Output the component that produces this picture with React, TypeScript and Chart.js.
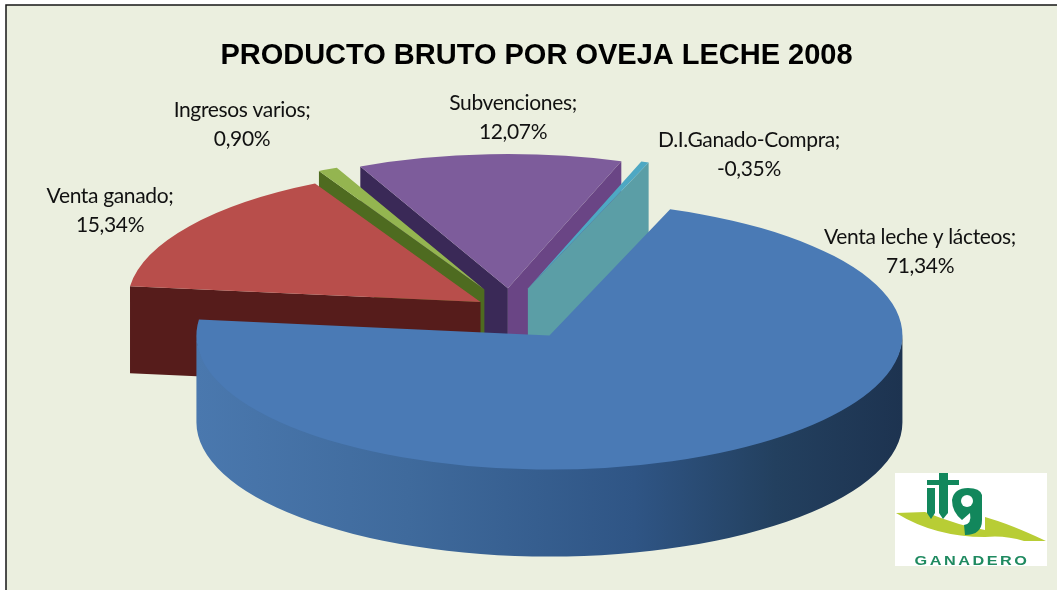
import React, { useEffect, useRef } from "react";
import { Chart, registerables } from "chart.js";

Chart.register(...registerables);

const chartTitle = "PRODUCTO BRUTO POR OVEJA LECHE 2008";
const categories = ["Venta leche y lácteos", "Venta ganado", "Ingresos varios", "Subvenciones", "D.I.Ganado-Compra"];
const shares = [71.34, 15.34, 0.9, 12.07, 0.35];
const shareSigns = [1, 1, 1, 1, -1];
const topColors = ["#4a7ab5", "#b84e4b", "#94b550", "#7d5c9b", "#4ea8c3"];
const leftWallColors = ["#3a6191", "#561c1b", "#4e6b20", "#3a2957", "#5b9ea6"];
const rightWallColors = ["#3a6191", "#561c1b", "#4e6b20", "#6a4585", "#5b9ea6"];
const paintOrder = [3, 4, 2, 1, 0];

// Picture geometry of the tilted pie
const PIE = { cx: 517, cy: 312, radius: 353, tilt: 0.38, depth: 87, explode: 60 };
const sliceNudge = [[1, 4], [13, 3], [-6, -2], [-6, -1], [-9, -2]];
const labelCenters = [[920, 237], [110, 196], [242, 110], [513, 103], [749, 140]];
const LABEL_LEADING = 29;

const drawLogo = (ctx: CanvasRenderingContext2D) => {
  const green = "#12875c";
  ctx.save();
  ctx.fillStyle = "#ffffff";
  ctx.fillRect(895, 473, 152, 93);
  // swoosh
  ctx.fillStyle = "#b8cd35";
  ctx.beginPath();
  ctx.moveTo(896, 513);
  ctx.lineTo(925, 512);
  ctx.quadraticCurveTo(960, 526, 985, 530);
  ctx.lineTo(985, 517);
  ctx.quadraticCurveTo(1010, 524, 1046, 541);
  ctx.lineTo(1024, 541);
  ctx.quadraticCurveTo(1005, 535, 985, 537);
  ctx.quadraticCurveTo(935, 537, 896, 513);
  ctx.fill();
  ctx.fillStyle = green;
  // i
  ctx.fillRect(927, 480, 8, 5);
  ctx.beginPath();
  ctx.moveTo(927, 488);
  ctx.lineTo(935, 488);
  ctx.lineTo(935, 513);
  ctx.lineTo(931, 519);
  ctx.lineTo(927, 513);
  ctx.fill();
  // t
  ctx.fillRect(935, 480, 24, 5);
  ctx.beginPath();
  ctx.moveTo(939, 473);
  ctx.lineTo(948, 473);
  ctx.lineTo(948, 513);
  ctx.lineTo(943, 519);
  ctx.lineTo(939, 513);
  ctx.fill();
  // g
  ctx.beginPath();
  ctx.moveTo(982, 495);
  ctx.lineTo(982, 520);
  ctx.quadraticCurveTo(982, 535, 965, 535);
  ctx.lineTo(964, 525);
  ctx.quadraticCurveTo(972, 524, 970, 513);
  ctx.lineTo(962, 520);
  ctx.quadraticCurveTo(952, 512, 952, 500);
  ctx.quadraticCurveTo(954, 488, 968, 488);
  ctx.quadraticCurveTo(980, 488, 982, 495);
  ctx.fill();
  ctx.fillStyle = "#ffffff";
  ctx.beginPath();
  ctx.ellipse(967, 501, 6, 6, 0, 0, Math.PI * 2);
  ctx.fill();
  ctx.fillStyle = "#1f8a60";
  ctx.font = "bold 13px 'Liberation Sans'";
  (ctx as any).letterSpacing = "2px";
  ctx.textAlign = "center";
  ctx.textBaseline = "middle";
  ctx.translate(972, 561);
  ctx.scale(1.25, 1);
  ctx.fillText("GANADERO", 0, 0);
  ctx.restore();
};

const piePlugin = {
  id: "tiltedPie",
  beforeDraw(chart: any) {
    const ctx = chart.ctx as CanvasRenderingContext2D;
    ctx.save();
    ctx.fillStyle = "#ffffff";
    ctx.fillRect(0, 0, chart.width, chart.height);
    ctx.fillStyle = "#ebefdf";
    ctx.fillRect(6, 5, chart.width, chart.height);
    ctx.strokeStyle = "#161616";
    ctx.lineWidth = 1.5;
    ctx.strokeRect(6, 5, chart.width + 10, chart.height + 10);
    ctx.restore();
  },
  beforeDatasetsDraw(chart: any) {
    const ctx = chart.ctx as CanvasRenderingContext2D;
    const arcs = chart.getDatasetMeta(0).data;
    const { cx, cy, radius, tilt, depth, explode } = PIE;
    for (const i of paintOrder) {
      const arc = arcs[i];
      const scale = radius / arc.outerRadius;
      const mid = (arc.startAngle + arc.endAngle) / 2;
      const ox = cx + Math.cos(mid) * explode + sliceNudge[i][0];
      const oy = cy + Math.sin(mid) * explode * tilt + sliceNudge[i][1];
      const at = (a: number, r = radius): [number, number] => [ox + Math.cos(a) * r, oy + Math.sin(a) * r * tilt];
      const wall = (a: number, color: string) => {
        const p = at(a);
        ctx.fillStyle = color;
        ctx.beginPath();
        ctx.moveTo(ox, oy);
        ctx.lineTo(p[0], p[1]);
        ctx.lineTo(p[0], p[1] + depth);
        ctx.lineTo(ox, oy + depth);
        ctx.closePath();
        ctx.fill();
      };
      // radial faces that look toward the viewer
      if (Math.sin(arc.startAngle - Math.PI / 2) > 0) wall(arc.startAngle, leftWallColors[i]);
      if (Math.sin(arc.endAngle + Math.PI / 2) > 0) wall(arc.endAngle, rightWallColors[i]);
      // outer rim, only on the front half
      const from = Math.max(arc.startAngle, 0);
      const to = Math.min(arc.endAngle, Math.PI);
      if (to > from) {
        const g = ctx.createLinearGradient(ox - radius, 0, ox + radius, 0);
        g.addColorStop(0, "#4a78ae");
        g.addColorStop(0.3, "#3f6a9c");
        g.addColorStop(0.62, "#2f5585");
        g.addColorStop(0.82, "#23405f");
        g.addColorStop(1, "#1d3350");
        ctx.fillStyle = g;
        ctx.beginPath();
        ctx.ellipse(ox, oy - 1.5, radius, radius * tilt, 0, from, to);
        ctx.ellipse(ox, oy + depth, radius, radius * tilt, 0, to, from, true);
        ctx.closePath();
        ctx.fill();
      }
      // top face: the library's own arc element under the tilt transform
      ctx.save();
      ctx.translate(ox, oy);
      ctx.scale(scale, scale * tilt);
      ctx.translate(-arc.x, -arc.y);
      arc.draw(ctx);
      ctx.restore();
    }
    return false;
  },
  afterDraw(chart: any) {
    const ctx = chart.ctx as CanvasRenderingContext2D;
    ctx.save();
    ctx.fillStyle = "#111111";
    ctx.font = "21px Lato";
    (ctx as any).letterSpacing = "-0.35px";
    ctx.textAlign = "center";
    ctx.textBaseline = "middle";
    categories.forEach((name, i) => {
      const [x, y] = labelCenters[i];
      const pct = (shares[i] * shareSigns[i]).toFixed(2).replace(".", ",") + "%";
      ctx.fillText(name + ";", x, y);
      ctx.fillText(pct, x, y + LABEL_LEADING);
    });
    (ctx as any).letterSpacing = "0px";
    ctx.restore();
    drawLogo(ctx);
  },
};

export default function App() {
  const ref = useRef<HTMLCanvasElement>(null);
  useEffect(() => {
    const chart = new Chart(ref.current as HTMLCanvasElement, {
      type: "pie",
      data: {
        labels: categories,
        datasets: [{ data: shares, backgroundColor: topColors, borderWidth: 0 }],
      },
      options: {
        responsive: false,
        animation: false,
        rotation: 20,
        layout: { padding: { left: 16 } },
        plugins: {
          legend: { display: false },
          tooltip: { enabled: false },
          title: {
            display: true,
            text: chartTitle,
            color: "#000000",
            font: { family: "'Liberation Sans'", size: 29, weight: "bold" },
            padding: { top: 39, bottom: 10 },
          },
        },
      },
      plugins: [piePlugin],
    } as any);
    return () => chart.destroy();
  }, []);
  return (
    <canvas
      ref={ref}
      width={1057}
      height={590}
      style={{ position: "fixed", left: 0, top: 0, display: "block" }}
    />
  );
}
